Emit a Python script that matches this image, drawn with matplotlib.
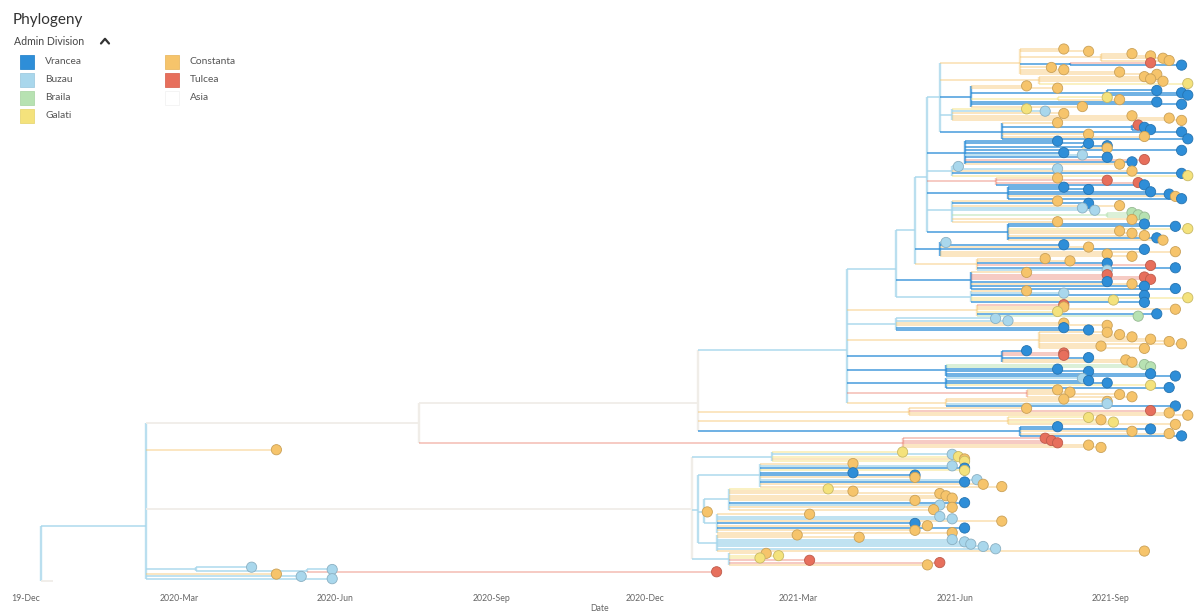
import matplotlib
matplotlib.use("Agg")
import matplotlib.pyplot as plt
from matplotlib.collections import LineCollection
from matplotlib.patches import Rectangle
from matplotlib.colors import to_rgb

plt.rcParams["font.family"] = ["Lato", "DejaVu Sans"]

# ---------------------------------------------------------------- regions
region_labels = {"V": "Vrancea", "B": "Buzau", "R": "Braila", "G": "Galati",
                 "C": "Constanta", "T": "Tulcea", "A": "Asia"}
region_colors = {"V": "#2e8ed8", "B": "#a9d7ec", "R": "#b7e2b2", "G": "#f4e27c",
                 "C": "#f6c46b", "T": "#e76f5c", "A": "#ffffff"}
legend_left = ["V", "B", "R", "G"]
legend_right = ["C", "T", "A"]

# ---------------------------------------------------------------- time axis (decimal years)
tick_dates = [2019.915, 2020.164, 2020.415, 2020.667, 2020.915, 2021.162, 2021.414, 2021.666]
tick_labels = ["19-Dec", "2020-Mar", "2020-Jun", "2020-Sep", "2020-Dec",
               "2021-Mar", "2021-Jun", "2021-Sep"]

# ---------------------------------------------------------------- tree
# internal node: [region, date, child, child, ...]   tip: (region, date)

# top block
t_a = ["C", 2021.52, ("C", 2021.59), ("C", 2021.63),
       ["C", 2021.65, ("C", 2021.70), ("C", 2021.73), ("C", 2021.75), ("C", 2021.76)],
       ["V", 2021.60, ("T", 2021.73), ("V", 2021.78)],
       ("C", 2021.57), ("C", 2021.59), ("C", 2021.68), ("C", 2021.74)]
t_b = ["C", 2021.55, ("C", 2021.72), ("C", 2021.73), ("C", 2021.75), ("G", 2021.79)]
t_c = ["V", 2021.44, ("C", 2021.53), ("C", 2021.58),
       ["V", 2021.66, ("V", 2021.74), ("V", 2021.78), ("V", 2021.79)],
       ["G", 2021.58, ("G", 2021.66), ("C", 2021.68)],
       ("V", 2021.74), ("V", 2021.78), ("C", 2021.62)]
t_d = ["B", 2021.41, ("G", 2021.53), ("B", 2021.56), ("C", 2021.59),
       ("C", 2021.70), ("C", 2021.76), ("C", 2021.78)]
t_e = ["V", 2021.49, ("C", 2021.58),
       ["V", 2021.70, ("T", 2021.71), ("V", 2021.72), ("V", 2021.73)],
       ("V", 2021.78), ("C", 2021.63), ("C", 2021.72), ("V", 2021.79)]

# second block
x_a = ["V", 2021.43, ("V", 2021.58), ("V", 2021.63),
       ["V", 2021.62, ("V", 2021.66), ("C", 2021.66)],
       ("V", 2021.78), ("V", 2021.59), ("B", 2021.62), ("V", 2021.66),
       ("T", 2021.72), ("V", 2021.70), ("C", 2021.68)]
x_b = ["B", 2021.41, ("B", 2021.42), ("B", 2021.58), ("C", 2021.70), ("V", 2021.78), ("G", 2021.79)]
x_c = ["T", 2021.48, ("C", 2021.58), ("T", 2021.66), ("T", 2021.71), ("V", 2021.72)]
x_d = ["V", 2021.50, ("V", 2021.59), ("V", 2021.63), ("V", 2021.73), ("V", 2021.76),
       ("C", 2021.77), ("V", 2021.78)]
x_e = ["B", 2021.41, ("C", 2021.58), ("V", 2021.63), ("C", 2021.68), ("B", 2021.62),
       ("B", 2021.64), ["R", 2021.66, ("R", 2021.70), ("R", 2021.71), ("R", 2021.72)],
       ("C", 2021.70), ("C", 2021.58)]
x_f = ["V", 2021.50, ("V", 2021.72), ("V", 2021.77), ("G", 2021.79), ("C", 2021.68),
       ("C", 2021.70), ("C", 2021.72), ("V", 2021.74), ("C", 2021.75)]

# third block
w_a = ["V", 2021.39, ("B", 2021.40), ("V", 2021.59), ("C", 2021.63), ("V", 2021.72),
       ("C", 2021.77), ("C", 2021.66), ("C", 2021.70)]
w_b = ["C", 2021.45, ("C", 2021.56), ("C", 2021.60), ("V", 2021.66), ("T", 2021.73),
       ("V", 2021.77), ("B", 2021.66)]
u_a = ["V", 2021.44, ("C", 2021.53), ("T", 2021.66), ("T", 2021.72), ("T", 2021.73),
       ("V", 2021.66), ("C", 2021.70), ("V", 2021.72), ("V", 2021.77)]
u_b = ["B", 2021.44, ("C", 2021.53), ("B", 2021.59), ("V", 2021.72), ("G", 2021.79),
       ("G", 2021.67), ("V", 2021.72)]

# fourth block
p_a = ["C", 2021.45, ("T", 2021.59), ("C", 2021.59), ("C", 2021.77), ("G", 2021.58),
       ("V", 2021.74), ("R", 2021.71)]
p_b = ["B", 2021.32, ("B", 2021.48), ("B", 2021.50), ("C", 2021.59), ("C", 2021.66),
       ("V", 2021.59), ("V", 2021.63)]
p_c = ["C", 2021.55, ("C", 2021.66), ("C", 2021.68), ("C", 2021.70), ("C", 2021.73),
       ("C", 2021.76), ("C", 2021.78), ("C", 2021.65), ("C", 2021.72)]
p_d = ["V", 2021.49, ("V", 2021.53), ("T", 2021.59), ("T", 2021.59), ("V", 2021.63),
       ("C", 2021.69), ("C", 2021.70)]
p_e = ["V", 2021.40, ("R", 2021.72), ("R", 2021.73), ("V", 2021.58), ("V", 2021.63),
       ("V", 2021.73), ("V", 2021.77)]
p_f = ["V", 2021.40, ("B", 2021.62), ("V", 2021.63), ("V", 2021.66), ("G", 2021.73), ("V", 2021.76)]
p_g = ["T", 2021.53, ("C", 2021.58), ("C", 2021.60), ("C", 2021.68), ("C", 2021.70)]
p_h = ["C", 2021.40, ("C", 2021.59), ("C", 2021.66), ("B", 2021.66), ("V", 2021.77)]

# fifth block
n_a = ["C", 2021.34, ("C", 2021.53), ("T", 2021.73), ("C", 2021.76), ("C", 2021.79)]
n_b = ["C", 2021.50, ("G", 2021.63), ("C", 2021.65), ("G", 2021.67), ("C", 2021.77)]
n_c = ["V", 2021.52, ("V", 2021.58), ("V", 2021.73), ("C", 2021.70), ("C", 2021.76), ("V", 2021.78)]
n_d = ["T", 2021.33, ("T", 2021.56), ("T", 2021.57), ("T", 2021.58), ("C", 2021.63), ("C", 2021.65)]

# lower clade
l_a = ["B", 2021.12, ("G", 2021.33), ("B", 2021.41), ("G", 2021.42), ("C", 2021.43), ("G", 2021.43)]
l_b = ["B", 2021.10, ("C", 2021.25), ("B", 2021.41), ("V", 2021.43), ("G", 2021.43),
       ("V", 2021.25), ("V", 2021.35), ("C", 2021.35), ("B", 2021.45), ("V", 2021.43),
       ("C", 2021.46), ("C", 2021.49)]
l_c = ["B", 2021.05, ("G", 2021.21), ("C", 2021.25), ("C", 2021.39), ("C", 2021.40),
       ("C", 2021.41), ("C", 2021.35), ("V", 2021.43), ("B", 2021.39), ("C", 2021.41),
       ("C", 2021.38)]
l_d = ["B", 2021.03, ("C", 2021.18), ("B", 2021.39), ("B", 2021.41), ("C", 2021.49),
       ("V", 2021.35), ("C", 2021.37), ("V", 2021.43), ("C", 2021.35), ("C", 2021.41)]
l_e = ["B", 2021.03, ("C", 2021.16), ("C", 2021.26), ("B", 2021.41), ("B", 2021.43),
       ("B", 2021.44), ("B", 2021.46), ("B", 2021.48), ("C", 2021.72)]
l_f = ["B", 2021.05, ("C", 2021.11), ("G", 2021.13), ("G", 2021.10), ("T", 2021.18),
       ("T", 2021.39), ("C", 2021.37)]

# early lineages
c_1 = ["B", 2020.19, ("B", 2020.28), ["B", 2020.37, ("B", 2020.41), ("T", 2021.03)]]

# backbone
tree_top = ["B", 2021.39, t_a, t_b, t_c, t_d, t_e]
tree_x = ["B", 2021.37, tree_top, x_a, x_b, x_c, x_d, x_e, x_f]
tree_w = ["B", 2021.35, tree_x, w_a, w_b]
tree_u = ["B", 2021.32, tree_w, u_a, u_b]
tree_p = ["B", 2021.24, tree_u, p_a, p_b, p_c, p_d, p_e, p_f, p_g, p_h]
tree_n3 = ["A", 2021.00, tree_p, n_a, n_b, n_c]
tree_n2 = ["A", 2020.55, tree_n3, n_d]
tree_l2 = ["B", 2021.01, l_c, ("C", 2021.015), l_d]
tree_l1 = ["B", 2021.00, l_b, tree_l2, l_e]
tree_l0 = ["A", 2020.99, l_a, tree_l1, l_f]
tree_n1 = ["B", 2020.11, tree_n2, ("C", 2020.32), tree_l0, c_1,
           ("C", 2020.32), ("B", 2020.36), ("B", 2020.41)]
tree_root = ["B", 2019.94, tree_n1, ("A", 2019.96)]

# ---------------------------------------------------------------- layout
tips = []          # (date, y, region)
h_segs, h_cols = [], []
v_segs, v_cols = [], []


def place(node, parent_date):
    if isinstance(node, tuple):
        region, date = node
        y = float(len(tips))
        tips.append((date, y, region))
    else:
        region, date = node[0], node[1]
        ys = [place(child, date) for child in node[2:]]
        y = sum(ys) / len(ys)
        v_segs.append([(date, min(ys)), (date, max(ys))])
        v_cols.append(region)
    if parent_date is not None:
        h_segs.append([(parent_date, y), (date, y)])
        h_cols.append(region)
    return y


place(tree_root, None)
n_tips = len(tips)

branch_alpha = {"V": 0.75, "B": 0.8, "R": 0.55, "G": 0.5, "C": 0.45, "T": 0.4, "A": 1.0}


def branch_color(code):
    if code == "A":
        return (0.94, 0.93, 0.91, 1.0)
    r, g, b = to_rgb(region_colors[code])
    return (r, g, b, branch_alpha[code])


def darker(hex_color, f=0.82):
    r, g, b = to_rgb(hex_color)
    return (r * f, g * f, b * f)


# ---------------------------------------------------------------- figure
W, H = 1200, 614
fig = plt.figure(figsize=(W / 100, H / 100), dpi=100)
fig.patch.set_facecolor("white")

# tree axes: tips run from pixel row 49 to 581, axis bottom at pixel 588
ax_top_px, ax_bot_px = 30, 588
top_tip_px, bot_tip_px = 49, 581
ax = fig.add_axes([0, (H - ax_bot_px) / H, 1, (ax_bot_px - ax_top_px) / H])
per_px = (n_tips - 1) / (bot_tip_px - top_tip_px)
ax.set_ylim((ax_bot_px - top_tip_px) * per_px, (ax_top_px - top_tip_px) * per_px)
x0 = 2021 - 698 / 620
ax.set_xlim(x0, x0 + W / 620)

ax.add_collection(LineCollection(v_segs, colors=[branch_color(c) for c in v_cols],
                                 linewidths=1.7, zorder=1, capstyle="butt"))
ax.add_collection(LineCollection(h_segs, colors=[branch_color(c) for c in h_cols],
                                 linewidths=1.3, zorder=1, capstyle="butt"))

tip_x = [t[0] for t in tips if t[2] != "A"]
tip_y = [t[1] for t in tips if t[2] != "A"]
tip_fc = [region_colors[t[2]] for t in tips if t[2] != "A"]
tip_ec = [darker(region_colors[t[2]]) for t in tips if t[2] != "A"]
ax.scatter(tip_x, tip_y, s=54, c=tip_fc, edgecolors=tip_ec, linewidths=0.6, zorder=3)

for s in ax.spines.values():
    s.set_visible(False)
ax.set_yticks([])
ax.set_xticks(tick_dates)
ax.set_xticklabels(tick_labels, fontsize=6.3, color="#666666")
ax.tick_params(axis="x", length=0, pad=4)
ax.set_xlabel("Date", fontsize=6.3, color="#666666", labelpad=1)
ax.set_facecolor("none")

# legend / header in pixel coordinates
ov = fig.add_axes([0, 0, 1, 1], facecolor="none")
ov.set_xlim(0, W)
ov.set_ylim(H, 0)
ov.axis("off")
ov.text(13, 20, "Phylogeny", fontsize=11, color="#333333", va="center", ha="left")
ov.text(14, 41.5, "Admin Division", fontsize=7.6, color="#444444", va="center", ha="left")
ov.plot([101, 105, 109], [43.5, 38.8, 43.5], color="#333333", lw=1.6, solid_capstyle="round")

for col_x, codes in ((20, legend_left), (165, legend_right)):
    for i, code in enumerate(codes):
        yc = 62 + 18 * i
        ov.add_patch(Rectangle((col_x, yc - 7), 14, 14, facecolor=region_colors[code],
                               edgecolor="#f2f2f2" if code == "A" else darker(region_colors[code], 0.95),
                               lw=0.6))
        ov.text(col_x + 25, yc, region_labels[code], fontsize=7.4, color="#555555",
                va="center", ha="left")

fig.savefig("out.png", dpi=100, facecolor="white")
